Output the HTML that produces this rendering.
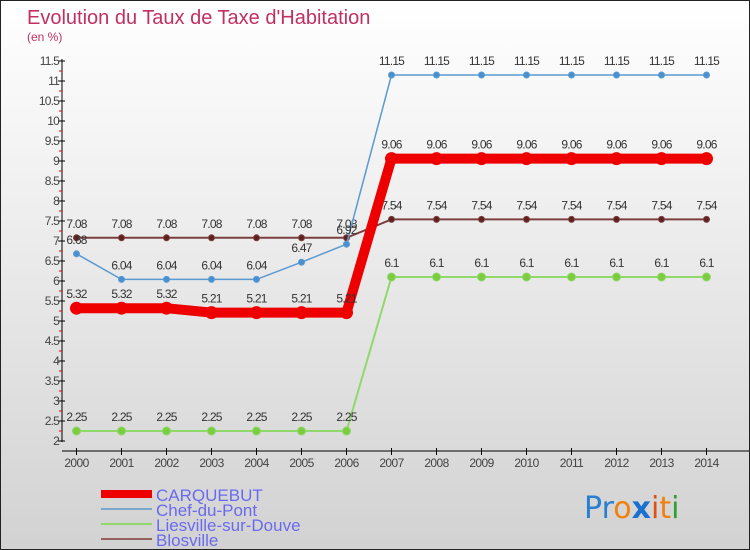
<!DOCTYPE html>
<html><head><meta charset="utf-8"><style>
body{margin:0}
#wrap{width:748px;height:548px;border:1px solid #222;background:linear-gradient(#ffffff,#f2f2f2 30%,#d2d2d2);position:relative;overflow:hidden;font-family:"Liberation Sans",sans-serif}
</style></head><body>
<div id="wrap">
<svg id="svg" width="748" height="548">
<text x="26" y="23" font-size="20" fill="#c03060">Evolution du Taux de Taxe d'Habitation</text>
<text x="26" y="40" font-size="12" fill="#c03060">(en %)</text>
<g id="axes"></g><g id="series"></g>
<g>
<rect x="100" y="489" width="51" height="8" fill="#ee0000"/>
<text x="155" y="500" font-size="17" fill="#6a6af0">CARQUEBUT</text>
<rect x="100" y="507" width="51" height="2" fill="#7ba7c9"/>
<text x="155" y="515" font-size="17" fill="#6a6af0">Chef-du-Pont</text>
<rect x="100" y="522" width="51" height="2" fill="#8fd86a"/>
<text x="155" y="530" font-size="17" fill="#6a6af0">Liesville-sur-Douve</text>
<rect x="100" y="537" width="51" height="2" fill="#946060"/>
<text x="155" y="545" font-size="17" fill="#6a6af0">Blosville</text>
</g>
<g font-size="30" font-family="'DejaVu Sans',sans-serif">
<text x="583" y="517"><tspan fill="#2a7fd0">Pr</tspan><tspan fill="#f08010">o</tspan><tspan fill="#1a70d0" font-weight="bold">x</tspan><tspan fill="#e05010">i</tspan><tspan fill="#f08010">t</tspan><tspan fill="#30a030">i</tspan></text>
</g>
</svg></div>
<script>
const years=[2000,2001,2002,2003,2004,2005,2006,2007,2008,2009,2010,2011,2012,2013,2014];
const yTicks=[2,2.5,3,3.5,4,4.5,5,5.5,6,6.5,7,7.5,8,8.5,9,9.5,10,10.5,11,11.5];
const carquebut=[5.32,5.32,5.32,5.21,5.21,5.21,5.21,9.06,9.06,9.06,9.06,9.06,9.06,9.06,9.06];
const chefDuPont=[6.68,6.04,6.04,6.04,6.04,6.47,6.92,11.15,11.15,11.15,11.15,11.15,11.15,11.15,11.15];
const liesville=[2.25,2.25,2.25,2.25,2.25,2.25,2.25,6.1,6.1,6.1,6.1,6.1,6.1,6.1,6.1];
const blosville=[7.08,7.08,7.08,7.08,7.08,7.08,7.08,7.54,7.54,7.54,7.54,7.54,7.54,7.54,7.54];
const NS="http://www.w3.org/2000/svg";
const X=i=>75.5+i*45, Y=v=>440-(v-2)*40;
function mk(t,a,p){const e=document.createElementNS(NS,t);for(const k in a)e.setAttribute(k,a[k]);p.appendChild(e);return e;}
const ax=document.getElementById('axes');
mk('line',{x1:61,y1:58,x2:61,y2:441,stroke:'#000'},ax);
mk('line',{x1:61,y1:450,x2:748,y2:450,stroke:'#000'},ax);
yTicks.forEach(v=>{
 mk('line',{x1:57,y1:Y(v),x2:64,y2:Y(v),stroke:'#000'},ax);
 if(v<11.5)mk('line',{x1:58,y1:Y(v+0.25),x2:61,y2:Y(v+0.25),stroke:'#e00'},ax);
 const t=mk('text',{x:58,y:Y(v)+4,'font-size':12,fill:'#444','text-anchor':'end','letter-spacing':'-0.8'},ax);
 t.textContent=String(v);
 
 
});
years.forEach((y,i)=>{
 mk('line',{x1:X(i),y1:447,x2:X(i),y2:454,stroke:'#000'},ax);
 const t=mk('text',{x:X(i),y:466,'font-size':12,fill:'#444','text-anchor':'middle','letter-spacing':'-0.6'},ax);
 t.textContent=y;
 
 
});
const sg=document.getElementById('series');
function series(vals,color,lw,r,dot,name){
 const g=mk('g',{},sg);
 
 
 mk('polyline',{points:vals.map((v,i)=>X(i)+','+Y(v)).join(' '),fill:'none',stroke:color,'stroke-width':lw},g);
 vals.forEach((v,i)=>{
  const c=mk('circle',{cx:X(i),cy:Y(v),r:r,fill:dot,stroke:color,'stroke-width':1},g);
  
  
  const t=mk('text',{x:X(i),y:Y(v)-10,'font-size':12,fill:'#333','text-anchor':'middle','letter-spacing':'-0.8'},g);
  t.textContent=String(v);
 });
}
series(liesville,'#8fd86a',2,4,'#7ccc40','series-liesville');
series(blosville,'#7a4040',2,3,'#602020','series-blosville');
series(chefDuPont,'#5a9ad0',1.5,3,'#4a90d0','series-chef-du-pont');
series(carquebut,'#ee0000',10,6,'#ee0000','series-carquebut');
</script>
</body></html>
